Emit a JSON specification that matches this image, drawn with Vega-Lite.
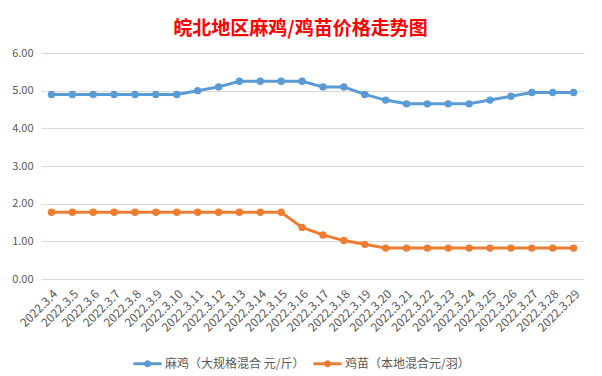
{
  "$schema": "https://vega.github.io/schema/vega-lite/v6.json",
  "autosize": "none",
  "width": 543,
  "height": 226,
  "padding": {"left": 41, "top": 53, "right": 18, "bottom": 97},
  "background": "white",
  "title": {
    "text": "皖北地区麻鸡/鸡苗价格走势图",
    "color": "#FF0000",
    "font": "Noto Sans CJK SC",
    "fontSize": 19,
    "fontWeight": "bold",
    "anchor": "middle",
    "dx": -12,
    "offset": 8
  },
  "config": {
    "view": {"stroke": null},
    "font": "Noto Sans CJK SC",
    "axis": {"labelColor": "#595959", "labelFontSize": 11, "labelFont": "Noto Sans CJK SC"}
  },
  "data": {
    "values": [
      {"date": "2022.3.4", "series": "麻鸡（大规格混合 元/斤）", "price": 4.9},
      {"date": "2022.3.5", "series": "麻鸡（大规格混合 元/斤）", "price": 4.9},
      {"date": "2022.3.6", "series": "麻鸡（大规格混合 元/斤）", "price": 4.9},
      {"date": "2022.3.7", "series": "麻鸡（大规格混合 元/斤）", "price": 4.9},
      {"date": "2022.3.8", "series": "麻鸡（大规格混合 元/斤）", "price": 4.9},
      {"date": "2022.3.9", "series": "麻鸡（大规格混合 元/斤）", "price": 4.9},
      {"date": "2022.3.10", "series": "麻鸡（大规格混合 元/斤）", "price": 4.9},
      {"date": "2022.3.11", "series": "麻鸡（大规格混合 元/斤）", "price": 5.0},
      {"date": "2022.3.12", "series": "麻鸡（大规格混合 元/斤）", "price": 5.1},
      {"date": "2022.3.13", "series": "麻鸡（大规格混合 元/斤）", "price": 5.25},
      {"date": "2022.3.14", "series": "麻鸡（大规格混合 元/斤）", "price": 5.25},
      {"date": "2022.3.15", "series": "麻鸡（大规格混合 元/斤）", "price": 5.25},
      {"date": "2022.3.16", "series": "麻鸡（大规格混合 元/斤）", "price": 5.25},
      {"date": "2022.3.17", "series": "麻鸡（大规格混合 元/斤）", "price": 5.1},
      {"date": "2022.3.18", "series": "麻鸡（大规格混合 元/斤）", "price": 5.1},
      {"date": "2022.3.19", "series": "麻鸡（大规格混合 元/斤）", "price": 4.9},
      {"date": "2022.3.20", "series": "麻鸡（大规格混合 元/斤）", "price": 4.75},
      {"date": "2022.3.21", "series": "麻鸡（大规格混合 元/斤）", "price": 4.65},
      {"date": "2022.3.22", "series": "麻鸡（大规格混合 元/斤）", "price": 4.65},
      {"date": "2022.3.23", "series": "麻鸡（大规格混合 元/斤）", "price": 4.65},
      {"date": "2022.3.24", "series": "麻鸡（大规格混合 元/斤）", "price": 4.65},
      {"date": "2022.3.25", "series": "麻鸡（大规格混合 元/斤）", "price": 4.75},
      {"date": "2022.3.26", "series": "麻鸡（大规格混合 元/斤）", "price": 4.85},
      {"date": "2022.3.27", "series": "麻鸡（大规格混合 元/斤）", "price": 4.95},
      {"date": "2022.3.28", "series": "麻鸡（大规格混合 元/斤）", "price": 4.95},
      {"date": "2022.3.29", "series": "麻鸡（大规格混合 元/斤）", "price": 4.95},
      {"date": "2022.3.4", "series": "鸡苗（本地混合元/羽）", "price": 1.77},
      {"date": "2022.3.5", "series": "鸡苗（本地混合元/羽）", "price": 1.77},
      {"date": "2022.3.6", "series": "鸡苗（本地混合元/羽）", "price": 1.77},
      {"date": "2022.3.7", "series": "鸡苗（本地混合元/羽）", "price": 1.77},
      {"date": "2022.3.8", "series": "鸡苗（本地混合元/羽）", "price": 1.77},
      {"date": "2022.3.9", "series": "鸡苗（本地混合元/羽）", "price": 1.77},
      {"date": "2022.3.10", "series": "鸡苗（本地混合元/羽）", "price": 1.77},
      {"date": "2022.3.11", "series": "鸡苗（本地混合元/羽）", "price": 1.77},
      {"date": "2022.3.12", "series": "鸡苗（本地混合元/羽）", "price": 1.77},
      {"date": "2022.3.13", "series": "鸡苗（本地混合元/羽）", "price": 1.77},
      {"date": "2022.3.14", "series": "鸡苗（本地混合元/羽）", "price": 1.77},
      {"date": "2022.3.15", "series": "鸡苗（本地混合元/羽）", "price": 1.77},
      {"date": "2022.3.16", "series": "鸡苗（本地混合元/羽）", "price": 1.37},
      {"date": "2022.3.17", "series": "鸡苗（本地混合元/羽）", "price": 1.17},
      {"date": "2022.3.18", "series": "鸡苗（本地混合元/羽）", "price": 1.02},
      {"date": "2022.3.19", "series": "鸡苗（本地混合元/羽）", "price": 0.92},
      {"date": "2022.3.20", "series": "鸡苗（本地混合元/羽）", "price": 0.82},
      {"date": "2022.3.21", "series": "鸡苗（本地混合元/羽）", "price": 0.82},
      {"date": "2022.3.22", "series": "鸡苗（本地混合元/羽）", "price": 0.82},
      {"date": "2022.3.23", "series": "鸡苗（本地混合元/羽）", "price": 0.82},
      {"date": "2022.3.24", "series": "鸡苗（本地混合元/羽）", "price": 0.82},
      {"date": "2022.3.25", "series": "鸡苗（本地混合元/羽）", "price": 0.82},
      {"date": "2022.3.26", "series": "鸡苗（本地混合元/羽）", "price": 0.82},
      {"date": "2022.3.27", "series": "鸡苗（本地混合元/羽）", "price": 0.82},
      {"date": "2022.3.28", "series": "鸡苗（本地混合元/羽）", "price": 0.82},
      {"date": "2022.3.29", "series": "鸡苗（本地混合元/羽）", "price": 0.82}
    ]
  },
  "mark": {"type": "line", "strokeWidth": 3, "point": {"filled": true, "size": 55}},
  "encoding": {
    "x": {
      "field": "date",
      "type": "ordinal",
      "sort": null,
      "scale": {"type": "point", "padding": 0.5},
      "axis": {
        "title": null,
        "labelAngle": -45,
        "labelFontSize": 12,
        "domain": false,
        "ticks": false,
        "labelPadding": 9
      }
    },
    "y": {
      "field": "price",
      "type": "quantitative",
      "scale": {"domain": [0, 6]},
      "axis": {
        "title": null,
        "values": [0, 1, 2, 3, 4, 5, 6],
        "format": ".2f",
        "domain": false,
        "ticks": false,
        "gridColor": "#D9D9D9",
        "labelPadding": 8
      }
    },
    "color": {
      "field": "series",
      "type": "nominal",
      "sort": null,
      "scale": {"range": ["#5B9BD5", "#ED7D31"]},
      "legend": {
        "title": null,
        "orient": "none",
        "direction": "horizontal",
        "legendX": 92,
        "legendY": 296,
        "symbolType": "M-1,-0.1L1,-0.1L1,0.1L-1,0.1Z M-0.25,0 A0.25,0.25 0 1,1 0.25,0 A0.25,0.25 0 1,1 -0.25,0 Z",
        "symbolSize": 800,
        "symbolStrokeWidth": 0,
        "labelFontSize": 12,
        "labelColor": "#595959",
        "labelOffset": 3,
        "columnPadding": 8,
        "encode": {"symbols": {"update": {"fill": {"scale": "color", "field": "value"}, "strokeWidth": {"value": 0}}}}
      }
    }
  }
}
